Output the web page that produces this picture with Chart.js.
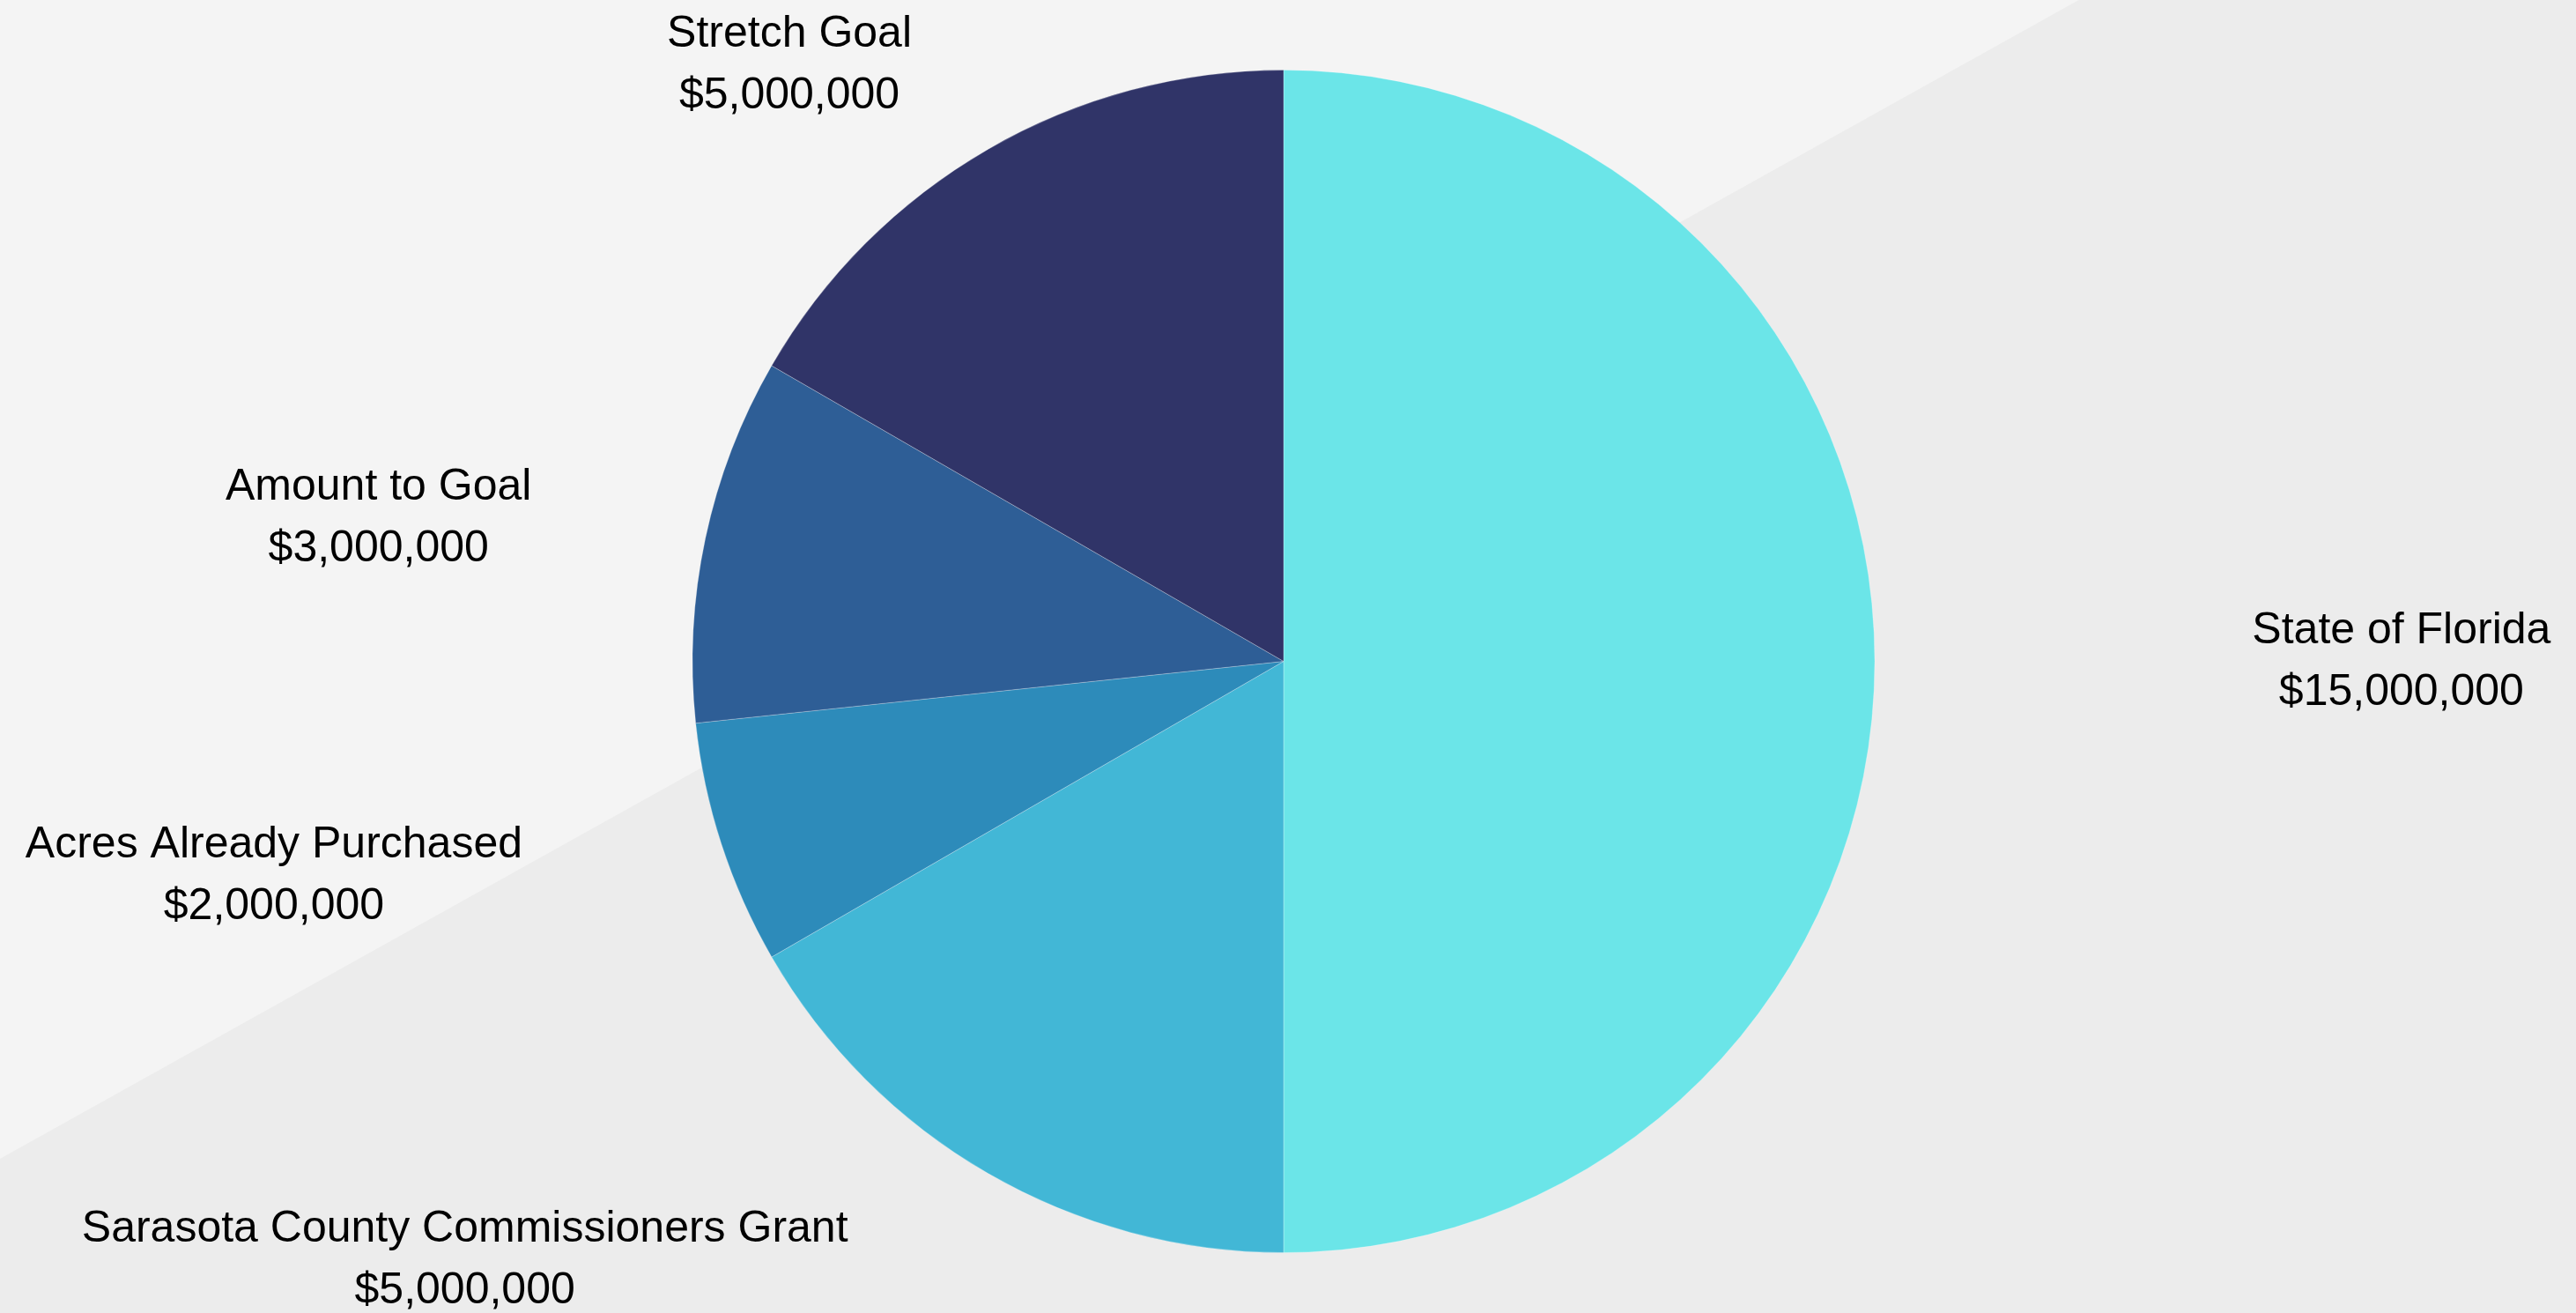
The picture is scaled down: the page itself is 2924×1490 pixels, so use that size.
<!DOCTYPE html>
<html>
<head>
<meta charset="utf-8">
<script src="https://cdn.jsdelivr.net/npm/chart.js@4"></script>
<style>
  html, body { margin: 0; padding: 0; background: #ececec; overflow: hidden; }
  canvas { display: block; }
</style>
</head>
<body>
<canvas id="chart" width="2924" height="1490"></canvas>
<script>
// funding sources, clockwise from the top
const labels = ['State of Florida', 'Sarasota County Commissioners Grant', 'Acres Already Purchased', 'Amount to Goal', 'Stretch Goal'];
const amounts = [15000000, 5000000, 2000000, 3000000, 5000000];
const colors = ['#6be5e8', '#42b7d6', '#2d8bba', '#2e5e96', '#303468'];

// where each label sits, in pie radii from the centre (first line baseline)
const labelOffsets = [
    [1.891, -0.030],
    [-1.385, 0.981],
    [-1.708, 0.331],
    [-1.531, -0.273],
    [-0.836, -1.040]
];

const money = v => '$' + v.toLocaleString('en-US');

// two-tone diagonal backdrop
const backdrop = {
    id: 'backdrop',
    beforeDraw(chart) {
        const { ctx, width, height } = chart;
        ctx.save();
        ctx.fillStyle = '#ececec';
        ctx.fillRect(0, 0, width, height);
        ctx.fillStyle = '#f4f4f4';
        ctx.beginPath();
        ctx.moveTo(0, 0);
        ctx.lineTo(width * 0.807, 0);
        ctx.lineTo(0, height * 0.8826);
        ctx.closePath();
        ctx.fill();
        ctx.restore();
    }
};

// name + amount labels around the pie
const outsideLabels = {
    id: 'outsideLabels',
    afterDraw(chart) {
        const { ctx } = chart;
        const meta = chart.getDatasetMeta(0);
        ctx.save();
        ctx.fillStyle = '#000';
        ctx.font = '50px "Liberation Sans", Arial, sans-serif';
        ctx.textAlign = 'center';
        ctx.textBaseline = 'alphabetic';
        meta.data.forEach((arc, i) => {
            const r = arc.outerRadius;
            const x = arc.x + labelOffsets[i][0] * r;
            const y = arc.y + labelOffsets[i][1] * r;
            ctx.fillText(chart.data.labels[i], x, y);
            ctx.fillText(money(chart.data.datasets[0].data[i]), x, y + 70);
        });
        ctx.restore();
    }
};

new Chart(document.getElementById('chart'), {
    type: 'pie',
    data: {
        labels: labels,
        datasets: [{
            data: amounts,
            backgroundColor: colors,
            borderColor: 'rgba(255,255,255,0.25)',
            borderWidth: 1
        }]
    },
    options: {
        responsive: false,
        devicePixelRatio: 1,
        animation: false,
        layout: { padding: { top: 79, bottom: 68, left: 0, right: 10 } },
        plugins: {
            legend: { display: false },
            tooltip: { enabled: false }
        }
    },
    plugins: [backdrop, outsideLabels]
});
</script>
</body>
</html>
